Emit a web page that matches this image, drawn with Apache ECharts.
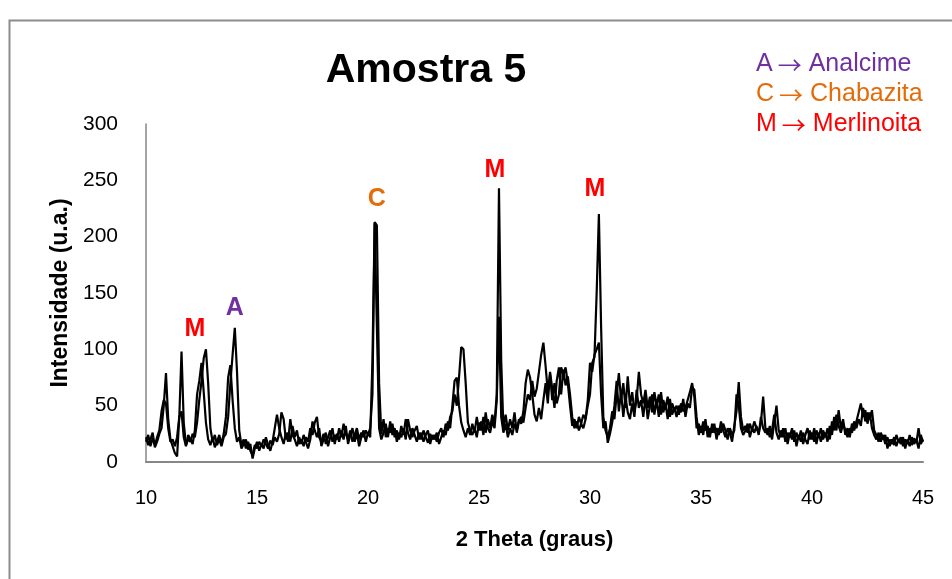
<!DOCTYPE html>
<html>
<head>
<meta charset="utf-8">
<script src="https://cdn.jsdelivr.net/npm/echarts@6/dist/echarts.min.js"></script>
<style>
html,body{margin:0;padding:0;background:#fff;}
#chart{width:952px;height:579px;}
</style>
</head>
<body>
<div id="chart"></div>
<script>
// 2-theta grid: first angle and instrument step (degrees)
const angleStart = 10;
const angleStep = 0.1;

// Intensity, measurement 1 (10.0 ... 45.0, step 0.1)
const intensity1 = [
18,24,14,21,15,22,28,45,55,52,
30,18,20,14,22,40,98,35,15,20,
18,25,22,35,55,72,92,100,70,30,
18,24,15,20,14,22,25,40,70,95,
119,80,28,15,20,12,18,10,6,15,
12,18,14,20,16,12,19,15,22,18,
25,44,38,20,26,18,32,22,28,16,
20,14,22,18,30,24,35,40,22,18,
25,16,22,28,18,24,20,30,22,34,
25,20,28,18,24,30,20,26,22,28,
24,30,60,213,210,70,25,38,22,30,
26,34,22,28,20,32,24,38,26,20,
30,24,18,26,20,28,22,17,25,20,
24,18,26,30,22,34,28,40,45,60,
50,75,102,100,70,35,28,24,30,22,
35,28,40,26,38,30,42,34,60,243,
90,30,42,28,38,30,44,26,36,40,
35,48,60,55,72,58,65,80,95,106,
85,62,78,55,70,52,60,84,78,84,
70,50,32,38,30,40,34,42,38,50,
60,88,93,150,220,120,40,28,22,30,
45,38,60,79,55,70,48,76,50,62,
45,55,80,60,52,64,48,58,44,62,
50,60,42,55,48,58,40,52,46,50,
42,52,45,48,55,62,70,58,30,34,
26,36,28,32,22,34,26,30,24,36,
28,22,30,26,18,32,45,71,40,28,
32,26,34,28,36,30,26,35,58,30,
24,32,20,35,50,28,22,30,18,26,
22,30,18,26,20,28,16,24,30,20,
26,18,28,22,30,20,26,18,32,24,
40,28,46,30,38,24,30,22,34,28,
36,44,52,40,46,34,44,30,24,20,
26,18,24,16,22,14,20,15,24,18,
22,14,20,16,24,15,21,17,30,16,
20
];

// Intensity, measurement 2 (10.0 ... 45.0, step 0.1)
const intensity2 = [
22,15,20,26,13,18,25,30,50,79,
38,20,14,8,5,40,45,22,14,24,
20,16,28,60,72,88,62,35,20,15,
22,13,18,24,16,25,40,75,86,55,
30,18,22,12,16,20,11,16,3,12,
18,10,16,12,22,15,10,18,30,42,
30,22,16,26,18,38,24,20,14,22,
16,24,18,12,20,36,28,22,30,14,
20,26,14,22,30,16,25,18,28,20,
32,16,24,30,18,26,14,22,28,18,
26,22,90,212,120,30,20,26,34,22,
36,24,30,18,26,22,30,20,38,28,
22,28,32,20,26,18,24,28,16,24,
20,26,16,22,28,24,36,30,50,72,
75,50,35,28,22,30,24,34,26,40,
28,36,24,44,30,26,36,30,55,129,
40,26,34,22,30,24,34,28,38,34,
45,70,82,75,60,42,36,48,38,55,
70,52,80,65,48,72,84,60,82,68,
76,60,40,30,36,28,34,30,38,55,
88,80,95,100,106,60,30,36,17,25,
35,50,72,45,62,40,58,44,38,52,
40,64,48,55,40,58,38,50,60,42,
55,40,62,44,52,38,56,42,48,40,
50,44,56,40,52,48,66,64,40,24,
32,24,38,22,30,26,34,20,30,26,
34,28,20,30,24,28,60,50,30,24,
28,34,22,30,26,32,24,40,30,26,
30,22,28,42,26,20,28,22,30,16,
26,20,28,14,24,18,26,20,16,28,
20,30,16,26,18,28,22,30,20,36,
28,42,32,26,34,28,22,30,26,36,
30,38,32,48,36,44,38,46,28,24,
18,26,20,24,12,20,16,22,14,20,
16,22,12,20,14,22,16,20,12,24,
18
];

// Peak identification labels (phase letter, position in data units)
const peakLetters = ['M', 'A', 'C', 'M', 'M'];
const peakAngles  = [12.2, 14.0, 20.4, 25.72, 30.22];
const peakHeights = [118, 137, 233, 259, 242];

// Axis ticks
const xTicks = [10, 15, 20, 25, 30, 35, 40, 45];
const yTicks = [0, 50, 100, 150, 200, 250, 300];

// Phase key: letter and mineral name
const keyLetters = ['A', 'C', 'M'];
const keyNames = ['Analcime', 'Chabazita', 'Merlinoita'];

const phaseColor = { A: '#7030A0', C: '#E36C09', M: '#FF0000' };

function toPairs(arr) {
  return arr.map((v, i) => [+(angleStart + i * angleStep).toFixed(2), v]);
}

const chart = echarts.init(document.getElementById('chart'), null, { renderer: 'canvas' });

const FONT = '"Liberation Sans", Arial, sans-serif';

const option = {
  backgroundColor: '#ffffff',
  animation: false,
  title: {
    text: 'Amostra 5',
    left: 421,
    top: 45,
    textAlign: 'center',
    textStyle: { fontFamily: FONT, fontWeight: 'bold', fontSize: 41, color: '#000' }
  },
  grid: { left: 146, right: 29, top: 124, bottom: 117, containLabel: false },
  xAxis: {
    type: 'value',
    min: 10, max: 45, interval: 5,
    name: '2 Theta (graus)',
    nameLocation: 'middle',
    nameGap: 67,
    nameTextStyle: { fontFamily: FONT, fontWeight: 'bold', fontSize: 22, color: '#000' },
    axisLine: { show: true, lineStyle: { color: '#878787', width: 2 } },
    axisTick: { show: false },
    splitLine: { show: false },
    axisLabel: { fontFamily: FONT, fontSize: 20, color: '#000', margin: 26,
      formatter: v => xTicks.includes(v) ? String(v) : '' }
  },
  yAxis: {
    type: 'value',
    min: 0, max: 300, interval: 50,
    name: 'Intensidade (u.a.)',
    nameLocation: 'middle',
    nameGap: 73,
    nameRotate: 90,
    nameTextStyle: { fontFamily: FONT, fontWeight: 'bold', fontSize: 23, color: '#000' },
    axisLine: { show: true, lineStyle: { color: '#878787', width: 1.5 } },
    axisTick: { show: false },
    splitLine: { show: false },
    axisLabel: { fontFamily: FONT, fontSize: 21, color: '#000', margin: 28,
      formatter: v => yTicks.includes(v) ? String(v) : '' }
  },
  series: [
    {
      type: 'line', data: toPairs(intensity1), showSymbol: false, symbol: 'none',
      lineStyle: { color: '#000', width: 2.2 }, z: 3
    },
    {
      type: 'line', data: toPairs(intensity2), showSymbol: false, symbol: 'none',
      lineStyle: { color: '#000', width: 2.2 }, z: 3
    },
    {
      type: 'scatter', symbolSize: 1, silent: true, z: 5,
      itemStyle: { opacity: 0 },
      emphasis: { disabled: true },
      data: peakLetters.map((l, i) => ({
        value: [peakAngles[i], peakHeights[i]],
        label: {
          show: true, position: 'inside', formatter: l, opacity: 1,
          fontFamily: FONT, fontWeight: 'bold', fontSize: 25, color: phaseColor[l]
        }
      }))
    }
  ],
  graphic: [
    {
      type: 'rect', left: 7, top: 18, silent: true,
      shape: { width: 1100, height: 800 },
      style: { fill: 'none', stroke: '#8c8c8c', lineWidth: 2 }
    }
  ].concat(keyLetters.map((l, i) => ({
    type: 'text', left: 756, top: 52 + i * 30,
    style: {
      text: '{t|' + l + '}{a|\u2192}{t|' + keyNames[i] + '}',
      rich: {
        t: { fontFamily: FONT, fontSize: 25, fill: phaseColor[l], color: phaseColor[l] },
        a: { fontFamily: '"Noto Sans CJK SC"', fontSize: 24, fill: phaseColor[l], color: phaseColor[l], padding: [0, 7, 0, 5] }
      }
    }
  })))
};

chart.setOption(option);
</script>
</body>
</html>
